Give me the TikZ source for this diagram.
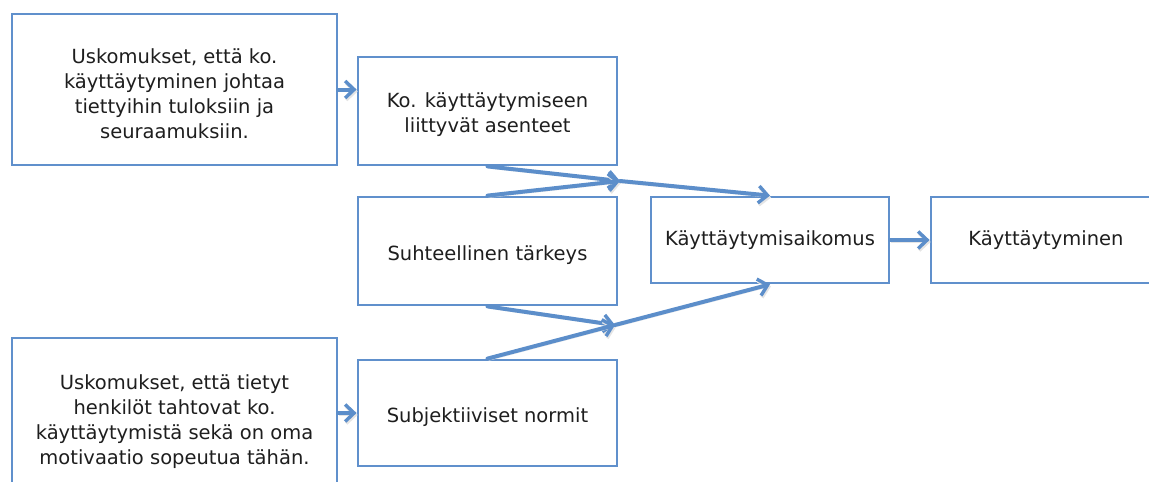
\documentclass[tikz,border=0pt]{standalone}
\usepackage{fontspec}
\setmainfont{DejaVu Sans}
\usetikzlibrary{arrows.meta,calc}
\definecolor{boxblue}{RGB}{96,144,204}
\definecolor{arrowblue}{RGB}{92,142,202}
\definecolor{txt}{RGB}{30,30,30}
\tikzset{
  box/.style={draw=boxblue, line width=2.8pt, fill=white, inner sep=0pt},
  lbl/.style={text=txt, align=center, font=\fontsize{19.5}{25}\selectfont, yshift=-4pt},
  link/.style={draw=arrowblue, line width=4pt, line cap=round,
    -{Straight Barb[length=9pt,width=17pt,line width=3.4pt]},
    preaction={draw=black!10, transform canvas={xshift=1pt, yshift=-2pt}}}
}
\begin{document}
\begin{tikzpicture}[x=1pt,y=-1pt]
\useasboundingbox (0,0) rectangle (1149,482);
\node[box, minimum width=325pt, minimum height=151pt,
  label={[lbl]center:Uskomukset, että ko.\\käyttäytyminen johtaa\\tiettyihin tuloksiin ja\\seuraamuksiin.}]
  (b1) at (174.5,89.5) {};
\node[box, minimum width=325pt, minimum height=160pt,
  label={[lbl]center:Uskomukset, että tietyt\\henkilöt tahtovat ko.\\käyttäytymistä sekä on oma\\motivaatio sopeutua tähän.}]
  (b6) at (174.5,418) {};
\node[box, minimum width=259pt, minimum height=108pt,
  label={[lbl]center:Ko. käyttäytymiseen\\liittyvät asenteet}]
  (b2) at (487.5,111) {};
\node[box, minimum width=259pt, minimum height=108pt,
  label={[lbl]center:Suhteellinen tärkeys}]
  (b3) at (487.5,251) {};
\node[box, minimum width=259pt, minimum height=106pt,
  label={[lbl]center:Subjektiiviset normit}]
  (b7) at (487.5,413) {};
\node[box, minimum width=238pt, minimum height=86pt,
  label={[lbl, yshift=4pt]center:Käyttäytymisaikomus}]
  (b4) at (770,240) {};
\node[box, minimum width=230pt, minimum height=86pt,
  label={[lbl, yshift=4pt]center:Käyttäytyminen}]
  (b5) at (1046,240) {};
% junction points where the paired influences meet
\coordinate (j1) at (620,181);
\coordinate (j2) at (615,325);
\draw[link] (b1.east) -- (b1.east -| b2.west);
\draw[link] (b7.west -| b6.east) -- (b7.west);
\draw[link] (b2.south) -- (j1);
\draw[link] (b3.north) -- (j1);
\draw[link] (j1) -- (b4.north);
\draw[link] (b3.south) -- (j2);
\draw[link] (b7.north) -- (j2);
\draw[link] (j2) -- (b4.south);
\draw[link] (b4.east) -- (b5.west);
\end{tikzpicture}
\end{document}
